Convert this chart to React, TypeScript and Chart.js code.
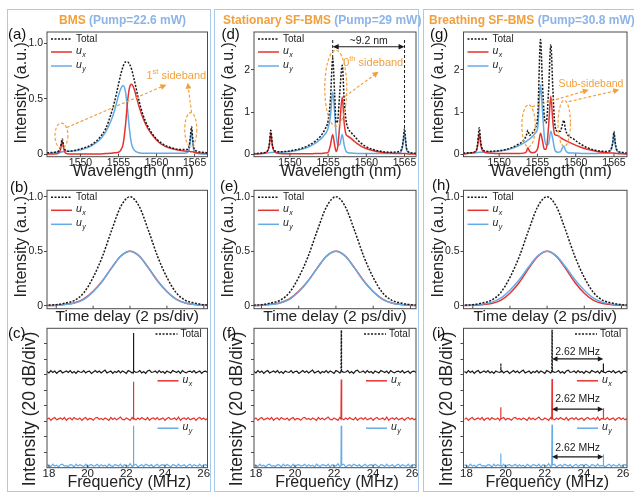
import React, { useEffect, useRef } from 'react';
import { Chart, registerables } from 'chart.js';

Chart.register(...registerables);

const FONT = '"Liberation Sans", Arial, Helvetica, sans-serif';
const RED = '#E5332F';
const BLUE = '#64ACE8';
const BLACK = '#1a1a1a';
const ORANGE = '#F2A03D';
const TITLE_BLUE = '#8DB4E6';
const BOX = '#A9CAEB';
const FRAME = '#4a4a4a';
const TXT = '#222';

// ---------------- data: spectra (row 1) ----------------
const wlTicks = [1550, 1555, 1560, 1565];

const wlA = [1545.6, 1546.5, 1547.2, 1547.4, 1547.6, 1547.8, 1548.0, 1548.6, 1549.5, 1550.5, 1551.5, 1552.5, 1553.3, 1554.0, 1554.5, 1555.0, 1555.3, 1555.6, 1555.9, 1556.2, 1556.45, 1556.7, 1557.0, 1557.3, 1557.7, 1558.2, 1558.8, 1559.5, 1560.3, 1561.2, 1562.2, 1563.2, 1564.0, 1564.3, 1564.45, 1564.6, 1564.75, 1564.9, 1565.3, 1566.0, 1566.8];
const totA = [0.015, 0.02, 0.035, 0.07, 0.14, 0.07, 0.04, 0.03, 0.04, 0.06, 0.09, 0.15, 0.23, 0.36, 0.48, 0.63, 0.72, 0.79, 0.83, 0.83, 0.81, 0.77, 0.69, 0.6, 0.48, 0.36, 0.26, 0.18, 0.12, 0.08, 0.055, 0.045, 0.045, 0.08, 0.16, 0.25, 0.15, 0.06, 0.03, 0.02, 0.015];
const uxA = [0.005, 0.005, 0.015, 0.05, 0.12, 0.05, 0.015, 0.005, 0.005, 0.005, 0.005, 0.005, 0.008, 0.01, 0.015, 0.02, 0.04, 0.09, 0.25, 0.48, 0.6, 0.63, 0.6, 0.53, 0.43, 0.33, 0.24, 0.17, 0.11, 0.07, 0.05, 0.035, 0.03, 0.03, 0.025, 0.025, 0.025, 0.02, 0.015, 0.01, 0.008];
const uyA = [0.01, 0.015, 0.02, 0.02, 0.025, 0.025, 0.03, 0.03, 0.035, 0.05, 0.08, 0.13, 0.2, 0.3, 0.4, 0.53, 0.59, 0.62, 0.57, 0.4, 0.22, 0.1, 0.045, 0.025, 0.015, 0.01, 0.01, 0.01, 0.01, 0.01, 0.01, 0.01, 0.015, 0.05, 0.13, 0.21, 0.11, 0.04, 0.01, 0.005, 0.005];

const wlD = [1545.2, 1546.3, 1547.0, 1547.3, 1547.5, 1547.7, 1548.0, 1548.7, 1549.5, 1550.5, 1551.5, 1552.5, 1553.3, 1554.0, 1554.6, 1555.0, 1555.3, 1555.6, 1555.85, 1556.05, 1556.25, 1556.5, 1556.85, 1557.1, 1557.35, 1557.6, 1558.0, 1558.5, 1559.1, 1559.8, 1560.8, 1562.0, 1563.2, 1564.3, 1564.7, 1564.85, 1565.0, 1565.15, 1565.3, 1565.8, 1566.8];
const totD = [0.02, 0.03, 0.07, 0.24, 0.57, 0.24, 0.09, 0.06, 0.07, 0.1, 0.14, 0.22, 0.31, 0.43, 0.6, 0.8, 1.3, 2.27, 1.45, 0.75, 0.8, 1.4, 2.11, 1.3, 0.8, 0.62, 0.52, 0.42, 0.3, 0.2, 0.12, 0.07, 0.05, 0.07, 0.18, 0.38, 0.61, 0.33, 0.12, 0.04, 0.02];
const uxD = [0.01, 0.02, 0.06, 0.21, 0.5, 0.21, 0.06, 0.02, 0.015, 0.015, 0.015, 0.015, 0.02, 0.02, 0.03, 0.05, 0.22, 0.47, 0.22, 0.07, 0.17, 0.65, 1.36, 0.75, 0.47, 0.43, 0.38, 0.3, 0.22, 0.15, 0.09, 0.05, 0.03, 0.02, 0.02, 0.02, 0.02, 0.02, 0.015, 0.01, 0.01];
const uyD = [0.01, 0.02, 0.03, 0.04, 0.045, 0.045, 0.05, 0.05, 0.06, 0.08, 0.12, 0.18, 0.26, 0.36, 0.48, 0.62, 0.9, 1.48, 1.0, 0.47, 0.22, 0.22, 0.47, 0.22, 0.07, 0.04, 0.03, 0.025, 0.02, 0.02, 0.02, 0.02, 0.02, 0.03, 0.14, 0.32, 0.5, 0.27, 0.09, 0.03, 0.01];

const wlG = [1545.3, 1546.3, 1547.0, 1547.2, 1547.4, 1547.6, 1547.9, 1548.6, 1549.5, 1550.5, 1551.5, 1552.5, 1553.2, 1553.55, 1553.75, 1553.95, 1554.3, 1554.7, 1555.05, 1555.4, 1555.65, 1555.9, 1556.15, 1556.45, 1556.75, 1557.0, 1557.25, 1557.6, 1558.0, 1558.25, 1558.45, 1558.65, 1559.0, 1559.6, 1560.5, 1561.5, 1562.8, 1564.0, 1564.6, 1564.85, 1565.0, 1565.15, 1565.4, 1566.0, 1566.7];
const totG = [0.03, 0.04, 0.09, 0.28, 0.63, 0.28, 0.1, 0.07, 0.08, 0.1, 0.15, 0.24, 0.33, 0.45, 0.57, 0.45, 0.5, 0.62, 0.95, 2.72, 1.7, 0.9, 0.75, 1.5, 2.6, 1.6, 0.75, 0.55, 0.55, 0.7, 0.81, 0.6, 0.45, 0.38, 0.26, 0.16, 0.09, 0.07, 0.12, 0.3, 0.54, 0.3, 0.1, 0.05, 0.03];
const uxG = [0.01, 0.03, 0.08, 0.22, 0.5, 0.22, 0.07, 0.03, 0.02, 0.02, 0.02, 0.02, 0.03, 0.06, 0.16, 0.08, 0.04, 0.05, 0.15, 0.5, 0.33, 0.12, 0.13, 0.65, 1.38, 0.8, 0.47, 0.45, 0.4, 0.37, 0.35, 0.33, 0.3, 0.25, 0.18, 0.12, 0.07, 0.04, 0.03, 0.03, 0.03, 0.025, 0.02, 0.015, 0.01];
const uyG = [0.02, 0.03, 0.04, 0.045, 0.05, 0.05, 0.055, 0.06, 0.07, 0.09, 0.13, 0.2, 0.27, 0.31, 0.34, 0.36, 0.42, 0.5, 0.65, 1.65, 1.05, 0.42, 0.22, 0.25, 0.55, 0.37, 0.12, 0.05, 0.06, 0.15, 0.2, 0.1, 0.04, 0.03, 0.025, 0.02, 0.02, 0.03, 0.1, 0.28, 0.5, 0.25, 0.08, 0.03, 0.01];

// ---------------- data: pulses (row 2) ----------------
const timeTicks = [-4, -2, 0, 2, 4];
const tPulse = [-4.6, -4.0, -3.5, -3.0, -2.5, -2.0, -1.5, -1.0, -0.5, 0, 0.5, 1.0, 1.5, 2.0, 2.5, 3.0, 3.5, 4.0, 4.4];
const totPulse = [0.004, 0.01, 0.025, 0.05, 0.12, 0.26, 0.45, 0.69, 0.91, 1.0, 0.91, 0.69, 0.45, 0.26, 0.12, 0.05, 0.025, 0.01, 0.005];
const uxB = [0.002, 0.005, 0.013, 0.027, 0.062, 0.132, 0.227, 0.347, 0.456, 0.5, 0.456, 0.347, 0.227, 0.13, 0.06, 0.025, 0.012, 0.005, 0.002];
const uyB = [0.002, 0.005, 0.012, 0.025, 0.059, 0.128, 0.224, 0.345, 0.455, 0.5, 0.455, 0.345, 0.224, 0.128, 0.059, 0.025, 0.012, 0.005, 0.002];
const uxH = [0.001, 0.004, 0.009, 0.02, 0.05, 0.115, 0.213, 0.34, 0.453, 0.5, 0.453, 0.34, 0.213, 0.115, 0.05, 0.02, 0.009, 0.004, 0.001];
const uyH = [0.003, 0.006, 0.015, 0.031, 0.07, 0.143, 0.238, 0.355, 0.458, 0.5, 0.458, 0.355, 0.238, 0.143, 0.07, 0.031, 0.015, 0.006, 0.003];

// ---------------- data: RF spectra (row 3) ----------------
const freqTicks = [18, 20, 22, 24, 26];
const rfDivTicks = [0.33, 0.67, 1, 1.33, 1.67, 2, 2.33, 2.67];
const noiseStartMHz = 17.9;
const noiseStepMHz = 0.1;
const noiseTotal = [0.01, -0.02, 0.03, -0.01, 0.02, -0.03, 0.01, 0.03, -0.02, 0.0, 0.02, -0.01, 0.03, -0.02, 0.01, -0.03, 0.02, 0.0, -0.01, 0.03, -0.02, 0.01, 0.02, -0.03, 0.0, 0.03, -0.01, 0.02, -0.02, 0.01, 0.04, -0.02, 0.0, 0.02, -0.03, 0.01, -0.01, 0.03, -0.02, 0.02, 0.0, -0.03, 0.03, 0.01, -0.02, 0.02, -0.01, 0.0, 0.03, -0.02, 0.01, -0.03, 0.02, 0.04, -0.01, 0.0, 0.02, -0.02, 0.03, -0.01, 0.01, -0.03, 0.02, 0.0, -0.02, 0.03, 0.01, -0.01, 0.02, -0.03, 0.03, 0.0, -0.02, 0.01, 0.02, -0.01, 0.03, -0.02, 0.0, 0.02, -0.03, 0.01, 0.02, -0.01];
const noiseUx = [-0.01, 0.02, -0.03, 0.01, 0.03, -0.02, 0.0, 0.02, -0.01, 0.03, -0.03, 0.01, 0.02, -0.02, 0.03, 0.0, -0.01, 0.02, -0.03, 0.01, 0.03, -0.02, 0.01, 0.0, -0.03, 0.02, 0.03, -0.01, 0.01, -0.02, 0.02, 0.0, -0.03, 0.03, -0.01, 0.02, -0.02, 0.01, 0.04, -0.01, -0.02, 0.02, 0.0, -0.03, 0.03, 0.01, -0.02, 0.02, -0.01, 0.03, 0.0, -0.02, 0.03, -0.03, 0.01, 0.02, -0.01, 0.03, -0.02, 0.0, 0.02, -0.03, 0.01, 0.03, -0.01, 0.0, 0.02, -0.02, 0.04, -0.03, 0.01, 0.02, -0.01, 0.03, -0.02, 0.0, 0.02, -0.03, 0.01, 0.03, -0.01, 0.02, -0.02, 0.01];
const noiseUy = [0.02, 0.0, -0.02, 0.03, -0.01, 0.01, -0.03, 0.02, 0.03, -0.01, 0.0, -0.02, 0.02, 0.01, -0.03, 0.03, -0.01, 0.02, 0.0, -0.02, 0.03, -0.03, 0.01, 0.02, -0.01, 0.0, 0.03, -0.02, 0.02, -0.01, 0.01, -0.03, 0.03, 0.0, -0.02, 0.02, 0.01, -0.01, 0.03, -0.03, 0.02, 0.0, -0.01, 0.04, -0.02, 0.01, 0.03, -0.03, 0.0, 0.02, -0.02, 0.03, 0.01, -0.01, 0.02, -0.03, 0.0, 0.03, -0.02, 0.01, 0.02, -0.01, 0.03, 0.0, -0.03, 0.02, 0.01, -0.02, 0.03, -0.01, 0.0, 0.02, -0.03, 0.01, 0.03, -0.02, 0.02, 0.0, -0.01, 0.03, -0.02, 0.01, 0.02, 0.0];
const mainSpikeMHz = 22.37;
const sideSpikeMHz = [19.75, 24.99];
const spikeC = [0.84, 0.8, 0.86];
const spikeF = [0.9, 0.85, 0.86];
const spikeI = [0.91, 0.86, 0.88];
const sideLowI = [0.19, 0.25, 0.26];
const sideHighI = [0.18, 0.23, 0.24];

// ---------------- layout (page px) ----------------
const colGeom = [
  { boxL: 7, boxR: 211, cL: 8, pL: 47, pR: 207.5 },
  { boxL: 214, boxR: 419, cL: 215, pL: 254, pR: 416 },
  { boxL: 423, boxR: 640, cL: 424, pL: 463.5, pR: 627 },
];
const rowGeom = [
  { cT: 24, pT: 32, pB: 156.7, cB: 183 },
  { cT: 183, pT: 187.7, pB: 308.7, cB: 327 },
  { cT: 327, pT: 328.3, pB: 467.7, cB: 493 },
];
const rfBase = [2.06, 1.05, 0.045];

// ---------------- helpers ----------------
const xy = (xs: number[], ys: number[]) => xs.map((x, i) => ({ x, y: ys[i] }));

function line(color: string, pts: any[], dash?: number[], extra: any = {}) {
  return {
    data: pts,
    borderColor: color,
    borderWidth: 1.5,
    borderDash: dash || [],
    pointRadius: 0,
    fill: false,
    cubicInterpolationMode: 'monotone',
    ...extra,
  };
}

function spectrum(xs: number[], t: number[], ux: number[], uy: number[]) {
  return [
    line(BLACK, xy(xs, t), [2, 1.5]),
    line(RED, xy(xs, ux)),
    line(BLUE, xy(xs, uy)),
  ];
}
function pulses(t: number[], ux: number[], uy: number[]) {
  return [
    line(BLACK, xy(tPulse, t), [2, 1.5]),
    line(BLUE, xy(tPulse, uy)),
    line(RED, xy(tPulse, ux)),
  ];
}
function rfTrace(base: number, noise: number[], spikes: number[][]) {
  const pts = noise.map((n, i) => ({ x: noiseStartMHz + i * noiseStepMHz, y: base + n }));
  for (const [f, h] of spikes) {
    pts.push({ x: f - 0.015, y: base }, { x: f, y: base + h }, { x: f + 0.015, y: base });
  }
  pts.sort((a, b) => a.x - b.x);
  return pts;
}
function rfSet(main: number[], dottedTotal: boolean, sideLow?: number[], sideHigh?: number[]) {
  const noises = [noiseTotal, noiseUx, noiseUy];
  const colors = [BLACK, RED, BLUE];
  return [0, 1, 2].map((k) => {
    const spikes = [[mainSpikeMHz, main[k]]];
    if (sideLow && sideHigh) {
      spikes.push([sideSpikeMHz[0], sideLow[k]], [sideSpikeMHz[1], sideHigh[k]]);
    }
    const base = rfBase[k];
    const extra: any = { cubicInterpolationMode: 'default', tension: 0, borderWidth: 1.2 };
    if (k === 0 && dottedTotal) {
      extra.segment = {
        borderDash: (c: any) => (c.p0.parsed.y > base + 0.12 || c.p1.parsed.y > base + 0.12 ? [2, 1.5] : undefined),
      };
    }
    return line(colors[k], rfTrace(base, noises[k], spikes), undefined, extra);
  });
}

function arrowHead(ctx: CanvasRenderingContext2D, x1: number, y1: number, x2: number, y2: number, color: string, len = 6, half = 3) {
  const a = Math.atan2(y2 - y1, x2 - x1);
  ctx.save();
  ctx.fillStyle = color;
  ctx.beginPath();
  ctx.moveTo(x2, y2);
  ctx.lineTo(x2 - len * Math.cos(a) + half * Math.sin(a), y2 - len * Math.sin(a) - half * Math.cos(a));
  ctx.lineTo(x2 - len * Math.cos(a) - half * Math.sin(a), y2 - len * Math.sin(a) + half * Math.cos(a));
  ctx.closePath();
  ctx.fill();
  ctx.restore();
}
function arrow(ctx: CanvasRenderingContext2D, x1: number, y1: number, x2: number, y2: number, color: string, dashed: boolean, both: boolean, len = 6, half = 3) {
  const a = Math.atan2(y2 - y1, x2 - x1);
  ctx.save();
  ctx.strokeStyle = color;
  ctx.lineWidth = 1.2;
  ctx.setLineDash(dashed ? [3, 2] : []);
  ctx.beginPath();
  const sx = both ? x1 + (len - 1) * Math.cos(a) : x1;
  const sy = both ? y1 + (len - 1) * Math.sin(a) : y1;
  ctx.moveTo(sx, sy);
  ctx.lineTo(x2 - (len - 1) * Math.cos(a), y2 - (len - 1) * Math.sin(a));
  ctx.stroke();
  ctx.restore();
  arrowHead(ctx, x1, y1, x2, y2, color, len, half);
  if (both) arrowHead(ctx, x2, y2, x1, y1, color, len, half);
}
function ellipse(ctx: CanvasRenderingContext2D, cx: number, cy: number, rx: number, ry: number) {
  ctx.save();
  ctx.strokeStyle = ORANGE;
  ctx.lineWidth = 1.2;
  ctx.setLineDash([3, 2]);
  ctx.beginPath();
  ctx.ellipse(cx, cy, rx, ry, 0, 0, Math.PI * 2);
  ctx.stroke();
  ctx.restore();
}
function vdash(ctx: CanvasRenderingContext2D, x: number, y1: number, y2: number) {
  ctx.save();
  ctx.strokeStyle = BLACK;
  ctx.lineWidth = 1;
  ctx.setLineDash([3, 2]);
  ctx.beginPath();
  ctx.moveTo(x, y1);
  ctx.lineTo(x, y2);
  ctx.stroke();
  ctx.restore();
}
function text(ctx: CanvasRenderingContext2D, s: string, x: number, y: number, size: number, color: string, align: CanvasTextAlign = 'center') {
  ctx.save();
  ctx.font = `${size}px ${FONT}`;
  ctx.fillStyle = color;
  ctx.textAlign = align;
  ctx.textBaseline = 'middle';
  ctx.fillText(s, x, y);
  ctx.restore();
}
function supText(ctx: CanvasRenderingContext2D, a: string, sup: string, b: string, cx: number, cy: number, size: number, color: string) {
  ctx.save();
  ctx.fillStyle = color;
  ctx.textBaseline = 'middle';
  ctx.textAlign = 'left';
  ctx.font = `${size}px ${FONT}`;
  const wa = ctx.measureText(a).width;
  const wb = ctx.measureText(b).width;
  ctx.font = `${size * 0.68}px ${FONT}`;
  const ws = ctx.measureText(sup).width;
  let x = cx - (wa + ws + wb) / 2;
  ctx.font = `${size}px ${FONT}`;
  ctx.fillText(a, x, cy);
  x += wa;
  ctx.font = `${size * 0.68}px ${FONT}`;
  ctx.fillText(sup, x, cy - size * 0.35);
  x += ws;
  ctx.font = `${size}px ${FONT}`;
  ctx.fillText(b, x, cy);
  ctx.restore();
}
function legendEntry(ctx: CanvasRenderingContext2D, kind: string, x0: number, x1: number, tx: number, y: number) {
  ctx.save();
  ctx.lineWidth = 1.5;
  if (kind === 'total') {
    ctx.strokeStyle = BLACK;
    ctx.setLineDash([2, 1.5]);
  } else ctx.strokeStyle = kind === 'ux' ? RED : BLUE;
  ctx.beginPath();
  ctx.moveTo(x0, y);
  ctx.lineTo(x1, y);
  ctx.stroke();
  ctx.setLineDash([]);
  ctx.fillStyle = TXT;
  ctx.textBaseline = 'middle';
  ctx.textAlign = 'left';
  if (kind === 'total') {
    ctx.font = `10px ${FONT}`;
    ctx.fillText('Total', tx, y);
  } else {
    ctx.font = `italic 10.5px ${FONT}`;
    ctx.fillText('u', tx, y - 1);
    const w = ctx.measureText('u').width;
    ctx.font = `italic 7px ${FONT}`;
    ctx.fillText(kind === 'ux' ? 'x' : 'y', tx + w + 0.5, y + 3);
  }
  ctx.restore();
}

type Spec = {
  col: number;
  row: number;
  xMin: number;
  xMax: number;
  yMin: number;
  yMax: number;
  xTicks: number[];
  yTicks: number[];
  xLabels: boolean;
  yLabels: boolean;
  yFmt?: (v: number) => string;
  datasets: any[];
  annotate?: (ctx: CanvasRenderingContext2D, X: (v: number) => number, Y: (v: number) => number) => void;
};

const fmtHalf = (v: number) => (v === 0 ? '0' : v.toFixed(1));
const fmtInt = (v: number) => String(v);

const rowTitles = [
  { x: 'Wavelength (nm)', xSize: 16, xDx: 6, xY: 172, y: 'Intensity (a.u.)', ySize: 16, yDx: -25, yY: null as number | null, tick: 10.5, tickPad: 0.5 },
  { x: 'Time delay (2 ps/div)', xSize: 15.5, xDx: 0, xY: 317, y: 'Intensity (a.u.)', ySize: 16, yDx: -25, yY: null as number | null, tick: 10.5, tickPad: 0 },
  { x: 'Frequency (MHz)', xSize: 16, xDx: 2, xY: 482.5, y: 'Intensity (20 dB/div)', ySize: 17.5, yDx: -16.5, yY: 409, tick: 11.5, tickPad: -0.5 },
];

function buildConfig(spec: Spec) {
  const c = colGeom[spec.col];
  const r = rowGeom[spec.row];
  const rt = rowTitles[spec.row];
  const cW = Math.ceil(c.pR + 4 - c.cL);
  const xTickFont = { family: FONT, size: rt.tick };
  const yTickFont = { family: FONT, size: 10.5 };
  const decor = {
    id: 'decor',
    afterDraw(chart: any) {
      const ctx: CanvasRenderingContext2D = chart.ctx;
      const a = chart.chartArea;
      const xs = chart.scales.x;
      const ys = chart.scales.y;
      const X = (v: number) => xs.getPixelForValue(v);
      const Y = (v: number) => ys.getPixelForValue(v);
      ctx.save();
      ctx.strokeStyle = FRAME;
      ctx.lineWidth = 1;
      ctx.setLineDash([]);
      ctx.strokeRect(a.left, a.top, a.right - a.left, a.bottom - a.top);
      ctx.beginPath();
      for (const t of spec.xTicks) {
        const x = X(t);
        ctx.moveTo(x, a.bottom);
        ctx.lineTo(x, a.bottom - 3);
      }
      ctx.stroke();
      ctx.restore();
      // legend
      if (spec.row < 2) {
        const x0 = a.left + 4;
        legendEntry(ctx, 'total', x0, x0 + 21, x0 + 25, a.top + 7);
        legendEntry(ctx, 'ux', x0, x0 + 21, x0 + 25, a.top + 20);
        legendEntry(ctx, 'uy', x0, x0 + 21, x0 + 25, a.top + 34);
      } else {
        const x0 = a.right - 52;
        legendEntry(ctx, 'total', x0, x0 + 22, x0 + 25, Y(2.88));
        legendEntry(ctx, 'ux', x0 + 2, x0 + 23, x0 + 27, Y(1.87));
        legendEntry(ctx, 'uy', x0 + 2, x0 + 23, x0 + 27, Y(0.85));
      }
      // axis titles
      text(ctx, rt.x, (c.pL + c.pR) / 2 + rt.xDx - c.cL, rt.xY - r.cT, rt.xSize, TXT);
      ctx.save();
      const ty = rt.yY === null ? (r.pT + r.pB) / 2 - 1.5 : rt.yY;
      ctx.translate(c.pL + rt.yDx - c.cL, ty - r.cT);
      ctx.rotate(-Math.PI / 2);
      text(ctx, rt.y, 0, 0, rt.ySize, TXT);
      ctx.restore();
      if (spec.annotate) spec.annotate(ctx, X, Y);
    },
  };
  return {
    type: 'line' as const,
    data: { datasets: spec.datasets },
    plugins: [decor],
    options: {
      responsive: false,
      animation: false as const,
      events: [] as any[],
      layout: { padding: { left: 0, top: r.pT - r.cT, right: c.cL + cW - c.pR, bottom: 0 } },
      plugins: { legend: { display: false }, tooltip: { enabled: false } },
      scales: {
        x: {
          type: 'linear' as const,
          min: spec.xMin,
          max: spec.xMax,
          grid: { display: false, drawTicks: false },
          border: { display: false },
          ticks: {
            display: spec.xLabels,
            font: xTickFont,
            color: TXT,
            padding: rt.tickPad,
            maxRotation: 0,
            autoSkip: false,
            callback: (v: any) => String(v),
          },
          afterBuildTicks: (s: any) => {
            s.ticks = spec.xTicks.map((v) => ({ value: v }));
          },
          afterFit: (s: any) => {
            s.height = r.cB - r.pB;
          },
        },
        y: {
          type: 'linear' as const,
          min: spec.yMin,
          max: spec.yMax,
          grid: { display: true, drawOnChartArea: false, drawTicks: true, tickLength: 3, color: FRAME, lineWidth: 1 },
          border: { display: false },
          ticks: {
            display: spec.yLabels,
            font: yTickFont,
            color: TXT,
            padding: 1,
            callback: (v: any) => (spec.yFmt ? spec.yFmt(Number(v)) : String(v)),
          },
          afterBuildTicks: (s: any) => {
            s.ticks = spec.yTicks.map((v) => ({ value: v }));
          },
          afterFit: (s: any) => {
            s.width = c.pL - c.cL;
          },
        },
      },
    },
  };
}

// ---------------- panel specs ----------------
const specs: Spec[] = [
  {
    col: 0, row: 0, xMin: 1545.6, xMax: 1566.7, yMin: -0.02, yMax: 1.1,
    xTicks: wlTicks, yTicks: [0, 0.5, 1], xLabels: true, yLabels: true, yFmt: fmtHalf,
    datasets: spectrum(wlA, totA, uxA, uyA),
    annotate: (ctx, X, Y) => {
      ellipse(ctx, X(1547.5), Y(0.17), 6.5, 12.5);
      ellipse(ctx, X(1564.5), Y(0.224), 6, 17);
      arrow(ctx, X(1548.2), Y(0.242), X(1561.3), Y(0.627), ORANGE, true, false);
      arrow(ctx, X(1564.6), Y(0.376), X(1564.1), Y(0.645), ORANGE, true, false);
      supText(ctx, '1', 'st', ' sideband', X(1562.6), Y(0.707), 11, ORANGE);
    },
  },
  {
    col: 1, row: 0, xMin: 1545.3, xMax: 1566.5, yMin: -0.055, yMax: 2.9,
    xTicks: wlTicks, yTicks: [0, 1, 2], xLabels: true, yLabels: true, yFmt: fmtInt,
    datasets: spectrum(wlD, totD, uxD, uyD),
    annotate: (ctx, X, Y) => {
      vdash(ctx, X(1555.6), Y(2.71), Y(2.27));
      vdash(ctx, X(1565.0), Y(2.71), Y(0.61));
      arrow(ctx, X(1555.6), Y(2.55), X(1565.0), Y(2.55), BLACK, false, true, 6, 2.8);
      text(ctx, '~9.2 nm', X(1560.3), Y(2.69), 10.5, TXT);
      ellipse(ctx, X(1556.0), Y(1.57), 11, 38);
      arrow(ctx, X(1557.2), Y(1.37), X(1561.6), Y(1.96), ORANGE, true, false);
      supText(ctx, '0', 'th', ' sideband', X(1560.9), Y(2.16), 11, ORANGE);
    },
  },
  {
    col: 2, row: 0, xMin: 1545.34, xMax: 1566.7, yMin: -0.055, yMax: 2.9,
    xTicks: wlTicks, yTicks: [0, 1, 2], xLabels: true, yLabels: true, yFmt: fmtInt,
    datasets: spectrum(wlG, totG, uxG, uyG),
    annotate: (ctx, X, Y) => {
      ellipse(ctx, X(1553.84), Y(0.676), 6.7, 21);
      ellipse(ctx, X(1558.5), Y(0.735), 6.2, 23);
      arrow(ctx, X(1554.3), Y(1.13), X(1561.7), Y(1.53), ORANGE, true, false);
      arrow(ctx, X(1559.1), Y(1.25), X(1565.7), Y(1.53), ORANGE, true, false);
      text(ctx, 'Sub-sideband', X(1562.0), Y(1.67), 10.5, ORANGE);
    },
  },
  {
    col: 0, row: 1, xMin: -4.5, xMax: 4.2, yMin: -0.027, yMax: 1.059,
    xTicks: timeTicks, yTicks: [0, 0.5, 1], xLabels: false, yLabels: true, yFmt: fmtHalf,
    datasets: pulses(totPulse, uxB, uyB),
  },
  {
    col: 1, row: 1, xMin: -4.4, xMax: 4.3, yMin: -0.027, yMax: 1.059,
    xTicks: timeTicks, yTicks: [0, 0.5, 1], xLabels: false, yLabels: true, yFmt: fmtHalf,
    datasets: pulses(totPulse, uxB, uyB),
  },
  {
    col: 2, row: 1, xMin: -4.5, xMax: 4.3, yMin: -0.027, yMax: 1.059,
    xTicks: timeTicks, yTicks: [0, 0.5, 1], xLabels: false, yLabels: true, yFmt: fmtHalf,
    datasets: pulses(totPulse, uxH, uyH),
  },
  {
    col: 0, row: 2, xMin: 17.9, xMax: 26.2, yMin: 0, yMax: 3,
    xTicks: freqTicks, yTicks: rfDivTicks, xLabels: true, yLabels: false,
    datasets: rfSet(spikeC, false),
  },
  {
    col: 1, row: 2, xMin: 17.9, xMax: 26.2, yMin: 0, yMax: 3,
    xTicks: freqTicks, yTicks: rfDivTicks, xLabels: true, yLabels: false,
    datasets: rfSet(spikeF, true),
  },
  {
    col: 2, row: 2, xMin: 17.85, xMax: 26.2, yMin: 0, yMax: 3,
    xTicks: freqTicks, yTicks: rfDivTicks, xLabels: true, yLabels: false,
    datasets: rfSet(spikeI, true, sideLowI, sideHighI),
    annotate: (ctx, X, Y) => {
      const arrowOff = [0.28, 0.21, 0.19];
      const textOff = [0.43, 0.43, 0.38];
      for (let k = 0; k < 3; k++) {
        arrow(ctx, X(mainSpikeMHz), Y(rfBase[k] + arrowOff[k]), X(sideSpikeMHz[1]), Y(rfBase[k] + arrowOff[k]), BLACK, false, true, 5.5, 2.6);
        text(ctx, '2.62 MHz', X((mainSpikeMHz + sideSpikeMHz[1]) / 2), Y(rfBase[k] + textOff[k]), 10.5, TXT);
      }
    },
  },
];

const colTitles = [
  { left: 59, main: 'BMS', pump: '(Pump=22.6 mW)' },
  { left: 223, main: 'Stationary SF-BMS', pump: '(Pump=29 mW)' },
  { left: 429, main: 'Breathing SF-BMS', pump: '(Pump=30.8 mW)' },
];
const panelLabels = [
  { t: '(a)', x: 8, y: 34 }, { t: '(d)', x: 221.5, y: 34 }, { t: '(g)', x: 430, y: 34 },
  { t: '(b)', x: 10, y: 187 }, { t: '(e)', x: 220, y: 186 }, { t: '(h)', x: 432, y: 185 },
  { t: '(c)', x: 8, y: 333 }, { t: '(f)', x: 222, y: 333 }, { t: '(i)', x: 432, y: 333 },
];

function Panel({ spec }: { spec: Spec }) {
  const ref = useRef<HTMLCanvasElement>(null);
  const c = colGeom[spec.col];
  const r = rowGeom[spec.row];
  const w = Math.ceil(c.pR + 4 - c.cL);
  const h = r.cB - r.cT;
  useEffect(() => {
    const chart = new Chart(ref.current as HTMLCanvasElement, buildConfig(spec) as any);
    return () => chart.destroy();
  }, []);
  return (
    <canvas
      ref={ref}
      width={w}
      height={h}
      style={{ position: 'absolute', left: c.cL, top: r.cT, width: w, height: h }}
    />
  );
}

export default function App() {
  return (
    <div
      style={{
        position: 'absolute', left: 0, top: 0, width: 634, height: 493,
        background: '#fff', overflow: 'hidden', fontFamily: FONT,
      }}
    >
      {colGeom.map((c, i) => (
        <div
          key={'box' + i}
          style={{
            position: 'absolute', left: c.boxL, top: 9, width: c.boxR - c.boxL, height: 482.5,
            border: `1.5px solid ${BOX}`, boxSizing: 'border-box',
          }}
        />
      ))}
      {specs.map((s, i) => (
        <Panel key={i} spec={s} />
      ))}
      {colTitles.map((t, i) => (
        <div
          key={'t' + i}
          style={{
            position: 'absolute', left: t.left, top: 12.5, lineHeight: '14px', fontSize: 12,
            fontWeight: 'bold', whiteSpace: 'nowrap',
          }}
        >
          <span style={{ color: ORANGE }}>{t.main}</span>{' '}
          <span style={{ color: TITLE_BLUE }}>{t.pump}</span>
        </div>
      ))}
      {panelLabels.map((p, i) => (
        <div
          key={'p' + i}
          style={{
            position: 'absolute', left: p.x, top: p.y - 9, lineHeight: '18px', fontSize: 15,
            color: '#111', whiteSpace: 'nowrap',
          }}
        >
          {p.t}
        </div>
      ))}
    </div>
  );
}
